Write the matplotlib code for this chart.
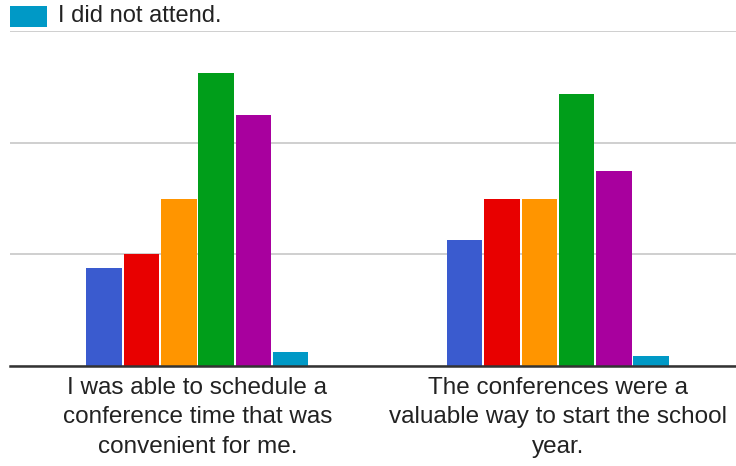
import matplotlib
matplotlib.use("Agg")
import matplotlib.pyplot as plt
from matplotlib.patches import Rectangle
import numpy as np

plt.rcParams['font.family'] = ['Liberation Sans', 'DejaVu Sans']

categories = [
    "I was able to schedule a\nconference time that was\nconvenient for me.",
    "The conferences were a\nvaluable way to start the school\nyear.",
]
series_names = ["Series 1", "Series 2", "Series 3", "Series 4", "Series 5", "I did not attend."]
values = [
    [7, 9],
    [8, 12],
    [12, 12],
    [21, 19.5],
    [18, 14],
    [1, 0.75],
]
colors = ['#3a5bcf', '#e80000', '#ff9500', '#009e1a', '#a8009e', '#0099c6']
yticks = [0, 8, 16, 24]

fig = plt.figure(figsize=(7.36, 4.66), dpi=100)
W, H = 736, 466
ax = fig.add_axes([10 / W, 1 - 366 / H, (736 - 10) / W, (366 - 31) / H])

x = np.arange(len(categories))
step = 0.1035
width = 0.0985
for i, (name, vals) in enumerate(zip(series_names, values)):
    ax.bar(x + (i - 2.5) * step, vals, width=width, color=colors[i], label=name, zorder=3)

ax.set_xlim(-0.520, 1.494)
ax.set_ylim(0, 24)
ax.set_yticks(yticks)
ax.set_yticklabels([])
ax.tick_params(axis='y', length=0)
ax.grid(axis='y', color='#cccccc', linewidth=1.3, zorder=0)
ax.set_xticks(x)
ax.set_xticklabels(categories, fontsize=17.5, color='#222222', linespacing=1.43)
ax.tick_params(axis='x', length=0, pad=8)
for s in ['top', 'right', 'left']:
    ax.spines[s].set_visible(False)
ax.spines['bottom'].set_color('#333333')
ax.spines['bottom'].set_linewidth(1.8)
ax.spines['bottom'].set_zorder(4)

# legend (only the visible entry)
fig.patches.append(Rectangle((10 / W, 1 - 27 / H), 37 / W, 21 / H, transform=fig.transFigure,
                             facecolor=colors[5], edgecolor='none'))
fig.text(58 / W, 1 - 16 / H, series_names[5], fontsize=17, color='#222222', va='center', ha='left')

fig.savefig("out.png", dpi=100)
